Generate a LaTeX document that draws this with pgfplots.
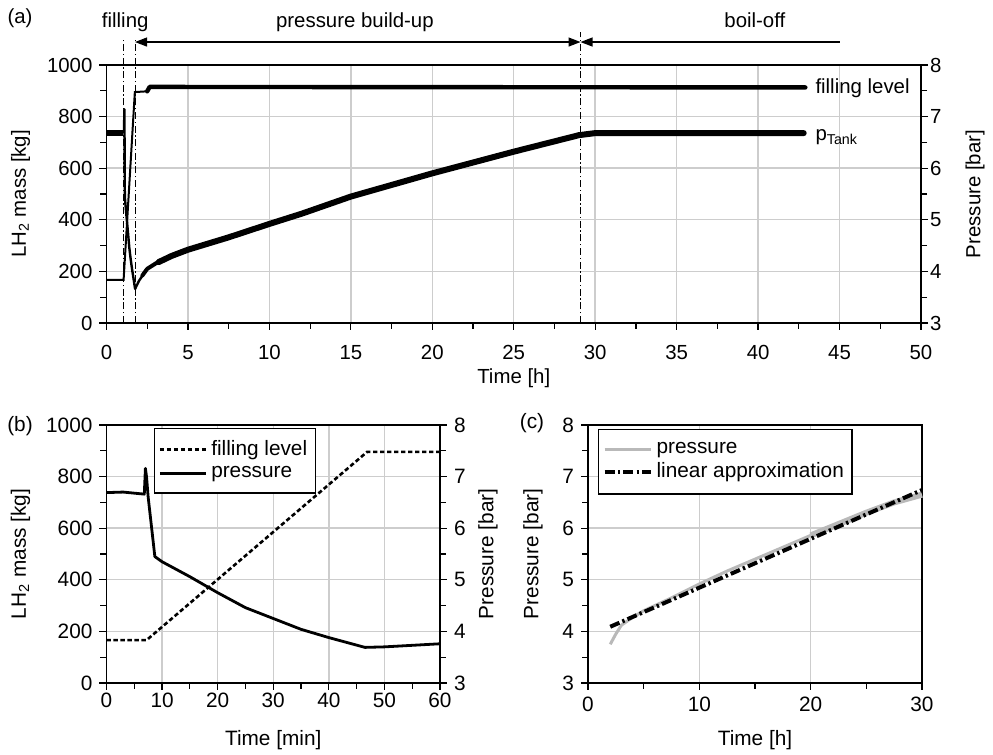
\documentclass[border=0pt]{standalone}
\usepackage{fontspec}
\setmainfont{Liberation Sans}
\usepackage{pgfplots}
\pgfplotsset{compat=1.18}
\usetikzlibrary{arrows.meta}
\definecolor{gridgray}{RGB}{205,205,205}
\definecolor{pgray}{RGB}{185,185,185}
\newcommand{\fa}{\fontsize{10.2}{12}\selectfont}
\newcommand{\fb}{\fontsize{10.4}{12}\selectfont}
\pgfplotsset{
  base/.style={
    scale only axis, anchor=south west, height=129pt,
    /pgf/number format/assume math mode=true,
    /pgf/number format/1000 sep={},
    tick align=outside,
    major tick length=3.5pt, minor tick length=3pt,
    every tick/.style={black, line width=0.6pt},
    axis line style={black, line width=0.8pt},
    grid style={gridgray, line width=0.7pt},
    clip=false,
  },
}
\tikzset{dd/.style={dash pattern=on 3.5pt off 1.3pt on 0.7pt off 1.3pt, line width=0.5pt}}
\begin{document}
\begin{tikzpicture}
\path[use as bounding box] (0,0) rectangle (496.5pt,377.5pt);
% ---------------- (a) ----------------
\begin{axis}[base, at={(53.25pt,216pt)}, width=407.25pt, font=\fa,
  xmin=0,xmax=50, ymin=0,ymax=1000,
  xtick={0,5,...,50}, ytick={0,200,...,1000},
  minor x tick num=1, minor y tick num=1,
  xtick pos=left, ytick pos=left,
  xmajorgrids, ymajorgrids,
  xticklabel style={yshift=-4pt},
  xlabel={Time [h]}, ylabel={LH\textsubscript{2} mass [kg]},
  xlabel style={at={(axis description cs:0.5,-0.213)}, anchor=center},
  ylabel style={at={(axis description cs:-0.1056,0.5)}, anchor=center},
]
\addplot[black, line width=1pt] coordinates {(0,167)(1.05,167)(1.74,895)(2.5,898)};
\addplot[black, line width=2.2pt, line join=round, line cap=round] coordinates {(2.5,898)(2.65,915)(42.9,913)};
\draw[dd] (axis cs:1.03,0) -- (axis cs:1.03,1100);
\draw[dd] (axis cs:1.75,0) -- (axis cs:1.75,1100);
\draw[dd] (axis cs:29.1,0) -- (axis cs:29.1,1128);
\draw[line width=0.6pt, {Triangle[length=6pt,width=4.5pt]}-{Triangle[length=6pt,width=4.5pt]}] (axis cs:1.75,1089) -- (axis cs:29.1,1089);
\draw[line width=0.6pt, {Triangle[length=6pt,width=4.5pt]}-] (axis cs:29.1,1089) -- (axis cs:45,1089);
\node[anchor=base] at (axis cs:1.15,1147) {filling};
\node[anchor=base] at (axis cs:15.25,1147) {pressure build-up};
\node[anchor=base] at (axis cs:39.8,1147) {boil-off};
\node[anchor=west, inner sep=0pt] at (axis cs:43.5,911) {filling level};
\end{axis}
\begin{axis}[base, at={(53.25pt,216pt)}, width=407.25pt, font=\fa,
  xmin=0,xmax=50, ymin=3,ymax=8,
  axis x line=none, axis y line*=right, axis line style={-},
  ytick={3,...,8}, minor y tick num=1,
  ytick pos=right, yticklabel pos=right,
  yticklabel style={xshift=-2.5pt},
  ylabel={Pressure [bar]},
  ylabel style={at={(axis description cs:1.0663,0.5)}, anchor=center},
]
\addplot[black, line width=3pt, line join=round] coordinates {(0,6.68)(1.03,6.68)};
\addplot[black, line width=1.2pt, line join=round] coordinates {(1.03,6.68)(1.07,6.68)(1.1,7.14)(1.125,5.45)(1.15,5.35)(1.23,5.06)(1.32,4.75)(1.4,4.46)(1.48,4.25)(1.57,4.04)(1.65,3.88)(1.755,3.66)(2.0,3.82)(2.5,4.05)};
\addplot[black, line width=2pt, line join=round, line cap=round] coordinates {(2.2,3.92)(2.5,4.05)(3,4.15)(3.5,4.23)};
\addplot[black, line width=3pt, line join=round, line cap=round] coordinates {(3.2,4.18)(4,4.3)(5,4.42)(7.5,4.66)(10,4.92)(12,5.12)(15,5.45)(20,5.9)(25,6.32)(29,6.64)(30,6.68)(35,6.68)(42.8,6.68)};
\node[anchor=west, inner sep=0pt] at (axis cs:43.5,6.6) {p\textsubscript{Tank}};
\end{axis}
% ---------------- (b) ----------------
\begin{axis}[base, at={(53.25pt,36pt)}, width=166.75pt, font=\fb,
  xmin=0,xmax=60, ymin=0,ymax=1000,
  xtick={0,10,...,60}, ytick={0,200,...,1000},
  minor x tick num=1, minor y tick num=1,
  xtick pos=left, ytick pos=left,
  xmajorgrids, ymajorgrids,
  xticklabel style={yshift=2pt},
  xlabel={Time [min]}, ylabel={LH\textsubscript{2} mass [kg]},
  xlabel style={at={(axis description cs:0.5,-0.221)}, anchor=center},
  ylabel style={at={(axis description cs:-0.258,0.5)}, anchor=center},
]
\addplot[black, line width=1.3pt, dash pattern=on 2.2pt off 1.3pt] coordinates {(0,166)(7.2,166)(46.9,896)(60,896)};
\end{axis}
\begin{axis}[base, at={(53.25pt,36pt)}, width=166.75pt, font=\fb,
  xmin=0,xmax=60, ymin=3,ymax=8,
  axis x line=none, axis y line*=right, axis line style={-},
  ytick={3,...,8}, minor y tick num=1,
  ytick pos=right, yticklabel pos=right,
  ylabel={Pressure [bar]},
  ylabel style={at={(axis description cs:1.144,0.5)}, anchor=center},
  legend style={at={(axis description cs:0.142,0.988)}, anchor=north west, draw=black, line width=0.6pt, font=\fb, inner xsep=2pt, inner ysep=4pt, row sep=0pt},
  legend cell align=left,
  legend image code/.code={\draw[#1] (0pt,0pt) -- (23pt,0pt);},
]
\addlegendimage{black, line width=1.3pt, dash pattern=on 2.2pt off 1.3pt}
\addlegendentry{filling level}
\addplot[black, line width=1.4pt, line join=round] coordinates {(0,6.69)(3,6.70)(6.8,6.66)(7.0,7.16)(7.2,7.0)(7.5,6.6)(8.7,5.45)(10,5.35)(15,5.06)(20,4.75)(25,4.46)(30,4.25)(35,4.04)(40,3.88)(46.5,3.69)(50,3.70)(60,3.76)};
\addlegendentry{pressure}
\end{axis}
% ---------------- (c) ----------------
\begin{axis}[base, at={(294pt,36pt)}, width=167pt, font=\fb,
  xmin=0,xmax=30, ymin=3,ymax=8,
  xtick={0,10,20,30}, ytick={3,...,8},
  minor x tick num=1, minor y tick num=1,
  xtick pos=left, ytick pos=left,
  xmajorgrids, ymajorgrids,
  xlabel={Time [h]}, ylabel={Pressure [bar]},
  xlabel style={at={(axis description cs:0.5,-0.221)}, anchor=center},
  ylabel style={at={(axis description cs:-0.165,0.5)}, anchor=center},
  legend style={at={(axis description cs:0.03,0.984)}, anchor=north west, draw=black, line width=0.6pt, font=\fb, inner xsep=2pt, inner ysep=4.5pt, row sep=-1pt},
  legend cell align=left,
  legend image code/.code={\draw[#1] (0pt,0pt) -- (23pt,0pt);},
]
\addplot[pgray, line width=1.5pt, line join=round] coordinates {(2,3.75)(2.5,3.95)(3,4.12)(4,4.27)(5,4.4)(7.5,4.65)(10,4.92)(12.5,5.17)(15,5.4)(17.5,5.63)(20,5.86)};
\addplot[pgray, line width=3pt, line join=round, forget plot] coordinates {(20,5.86)(22.5,6.08)(25,6.3)(27.5,6.5)(30,6.65)};
\addplot[black, line width=2pt, dash pattern=on 5pt off 1.6pt on 1.2pt off 1.6pt] coordinates {(2,4.09)(30,6.74)};
\legend{pressure, linear approximation}
\end{axis}
\node[anchor=base, font=\fa] at (10pt,365.5pt) {(a)};
\node[anchor=base, font=\fb] at (10pt,161.5pt) {(b)};
\node[anchor=base, font=\fb] at (266pt,163pt) {(c)};
\end{tikzpicture}
\end{document}
